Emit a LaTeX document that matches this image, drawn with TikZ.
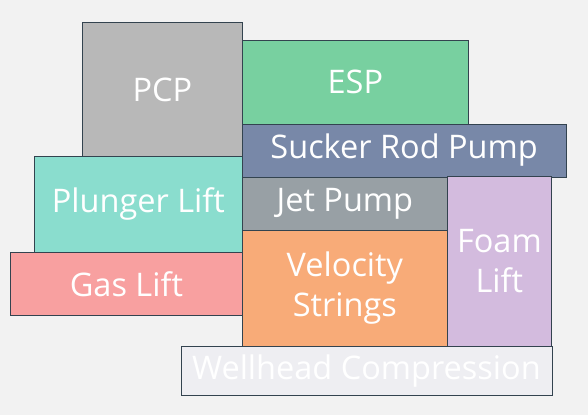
\documentclass[tikz,border=0pt]{standalone}
\usepackage{fontspec}
\setmainfont{Open Sans}

\definecolor{bgcol}{HTML}{F2F2F2}
\definecolor{edgecol}{HTML}{33434F}
\definecolor{pcpcol}{HTML}{B8B8B8}
\definecolor{espcol}{HTML}{78D0A0}
\definecolor{rodcol}{HTML}{7888A8}
\definecolor{plungercol}{HTML}{8ADDCE}
\definecolor{gascol}{HTML}{F8A0A0}
\definecolor{jetcol}{HTML}{98A0A5}
\definecolor{velcol}{HTML}{F8AB78}
\definecolor{foamcol}{HTML}{D3BBDE}
\definecolor{wellcol}{HTML}{EEEEF2}

\tikzset{
    liftbox/.style={draw=edgecol, line width=0.8pt, anchor=north west, inner sep=0pt,
        text=white, align=center, font=\fontsize{32.5}{40}\selectfont}
}

\begin{document}
\begin{tikzpicture}[x=1pt, y=-1pt]
        \fill[bgcol] (0,0) rectangle (588,415);
        \path node[liftbox, fill=pcpcol, minimum width=160pt, minimum height=134pt] (PCP) at (82,22) {PCP}
        node[liftbox, fill=espcol, minimum width=226pt, minimum height=84pt] (ESP) at (242,39.5) {ESP}
        node[liftbox, fill=rodcol, minimum width=323.5pt, minimum height=53pt] (SRP) at (242,123.5) {Sucker Rod Pump}
        node[liftbox, fill=plungercol, minimum width=208pt, minimum height=96pt] (PL) at (34,156) {Plunger Lift}
        node[liftbox, fill=gascol, minimum width=232pt, minimum height=63pt] (GL) at (10,252) {Gas Lift}
        node[liftbox, fill=jetcol, minimum width=205pt, minimum height=53pt] (JP) at (242,177) {Jet Pump}
        node[liftbox, fill=velcol, minimum width=205pt, minimum height=116pt] (VS) at (242,230) {Velocity\\Strings}
        node[liftbox, fill=foamcol, minimum width=104pt, minimum height=170pt] (FL) at (447,175.5) {Foam\\Lift}
        node[liftbox, fill=wellcol, minimum width=371pt, minimum height=49pt] (WC) at (180.5,346) {Wellhead Compression};
    \end{tikzpicture}
\end{document}
